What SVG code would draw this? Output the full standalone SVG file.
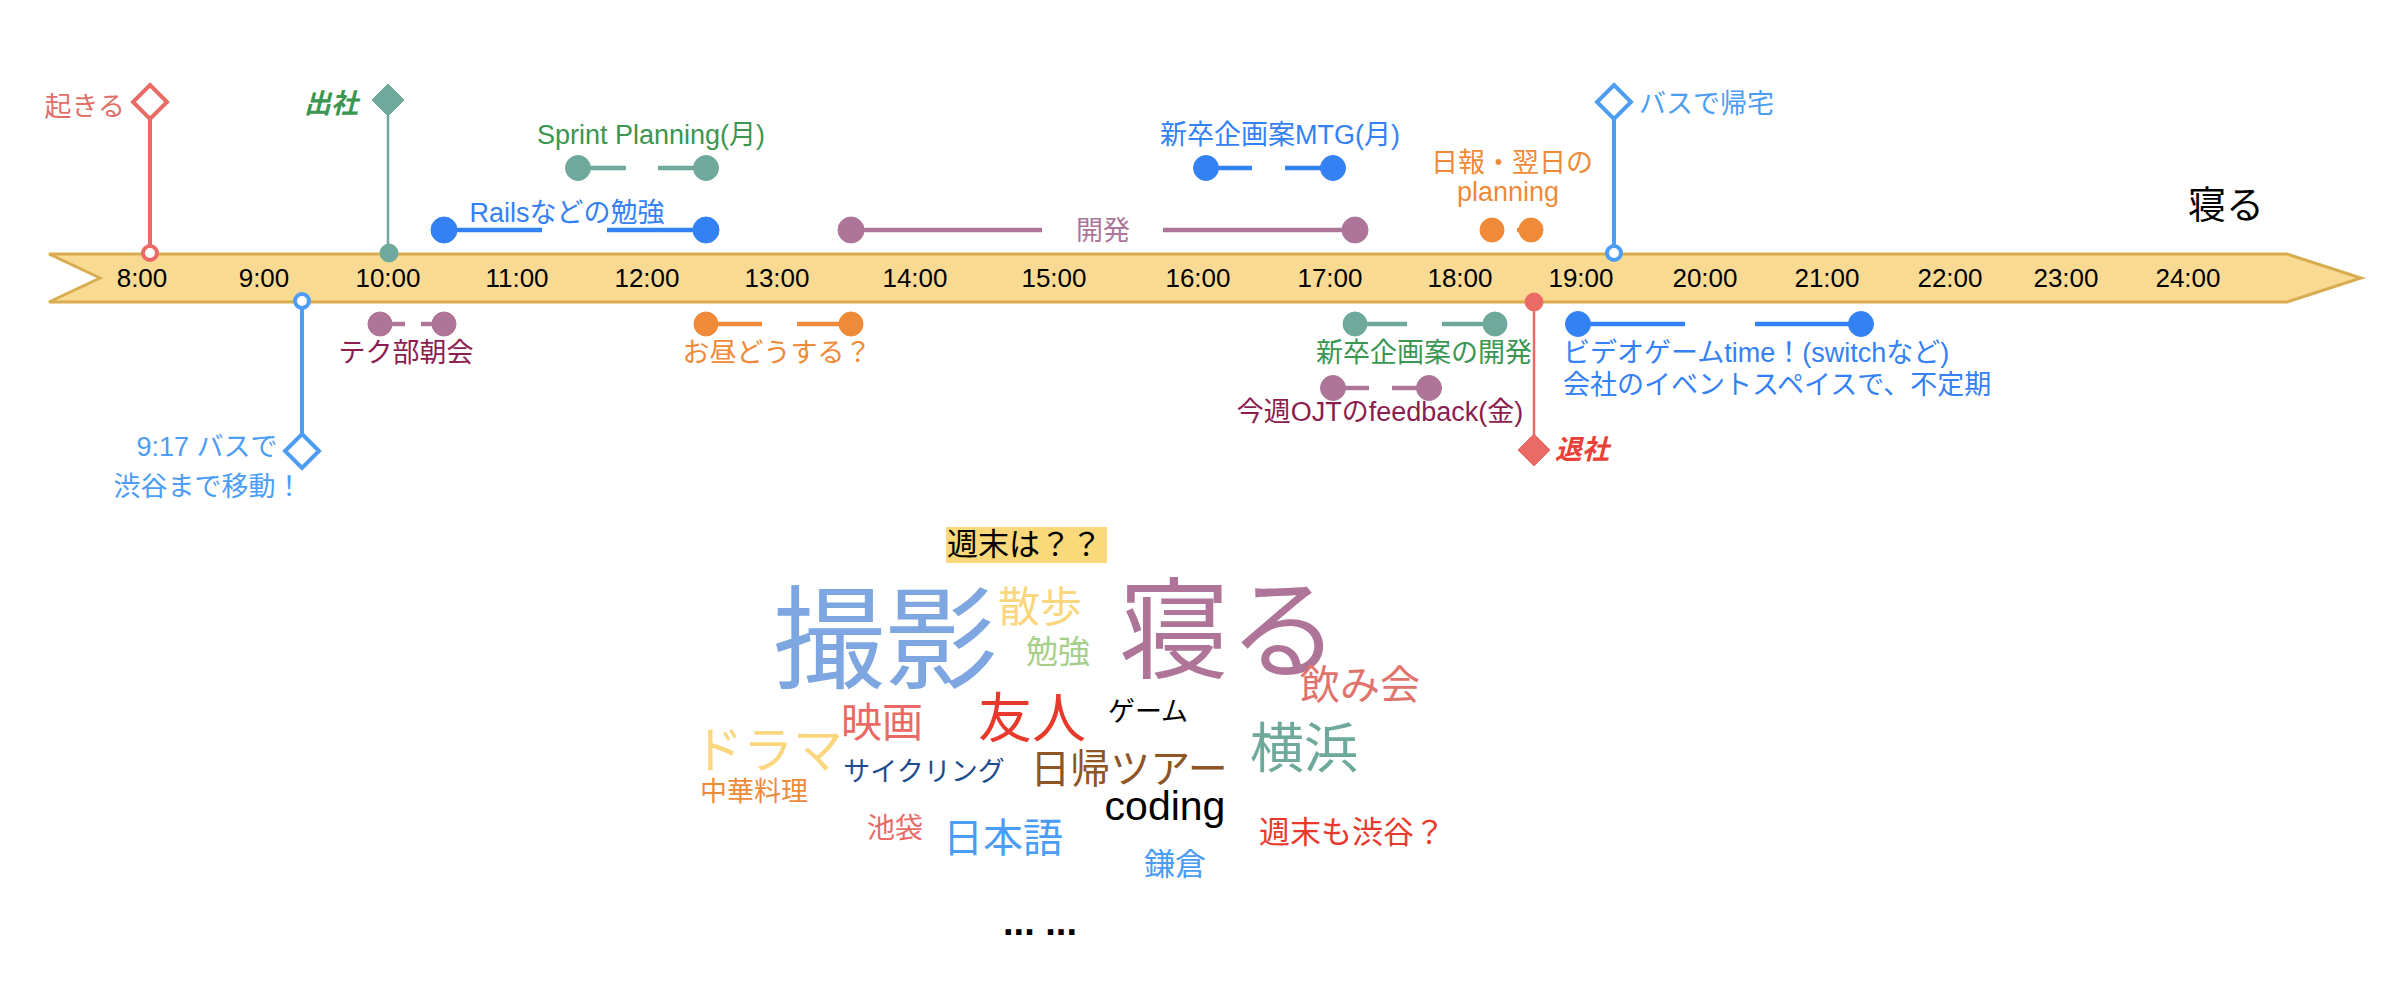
<svg xmlns="http://www.w3.org/2000/svg" width="2386" height="984" viewBox="0 0 2386 984">
<style>
text{font-family:"Liberation Sans","Noto Sans CJK JP",sans-serif}
.hr{font-size:26px;fill:#000;text-anchor:middle}
.l{font-size:27px}
.m{text-anchor:middle}
.e{text-anchor:end}
.bi{font-weight:bold;font-style:italic}
.ln{fill:none;stroke-width:4.5}
.red{stroke:#EA6B66;fill:#EA6B66}
.teal{stroke:#6FA99C;fill:#6FA99C}
.blue{stroke:#3481F4;fill:#3481F4}
.lblue{stroke:#4D9DF5;fill:#4D9DF5}
.pur{stroke:#AE7599;fill:#AE7599}
.org{stroke:#EF8A38;fill:#EF8A38}
.open{fill:#fff;stroke-width:4}
.wc{text-anchor:middle}
</style>
<rect width="2386" height="984" fill="#fff"/>
<g id="timeline">
<path d="M49,254 L2287,254 L2361,278 L2287,302 L49,302 L100,278 Z" fill="#F9DA93" stroke="#D8AC4F" stroke-width="3"/>
<text class="hr" x="142" y="287">8:00</text>
<text class="hr" x="264" y="287">9:00</text>
<text class="hr" x="388" y="287">10:00</text>
<text class="hr" x="517" y="287">11:00</text>
<text class="hr" x="647" y="287">12:00</text>
<text class="hr" x="777" y="287">13:00</text>
<text class="hr" x="915" y="287">14:00</text>
<text class="hr" x="1054" y="287">15:00</text>
<text class="hr" x="1198" y="287">16:00</text>
<text class="hr" x="1330" y="287">17:00</text>
<text class="hr" x="1460" y="287">18:00</text>
<text class="hr" x="1581" y="287">19:00</text>
<text class="hr" x="1705" y="287">20:00</text>
<text class="hr" x="1827" y="287">21:00</text>
<text class="hr" x="1950" y="287">22:00</text>
<text class="hr" x="2066" y="287">23:00</text>
<text class="hr" x="2188" y="287">24:00</text>
</g>
<g id="connectors">
<line x1="150" y1="119" x2="150" y2="246" stroke="#EA6B66" stroke-width="4"/>
<line x1="388" y1="116" x2="388" y2="250" stroke="#6FA99C" stroke-width="2.5"/>
<line x1="1614" y1="119" x2="1614" y2="246" stroke="#4D9DF5" stroke-width="4"/>
<line x1="302" y1="308" x2="302" y2="434" stroke="#4D9DF5" stroke-width="4"/>
<line x1="1534" y1="305" x2="1534" y2="436" stroke="#EA6B66" stroke-width="2.5"/>
<path class="ln teal" d="M578,168 H626 M658,168 H706"/>
<path class="ln blue" d="M444,230 H542 M607,230 H706"/>
<path class="ln blue" d="M1206,168 H1252 M1285,168 H1333"/>
<path class="ln pur" d="M851,230 H1042 M1163,230 H1355"/>
<path class="ln org" d="M1492,230 H1504 M1517,230 H1531"/>
<path class="ln pur" d="M380,324 H405 M421,324 H444"/>
<path class="ln org" d="M706,324 H762 M797,324 H851"/>
<path class="ln teal" d="M1355,324 H1407 M1442,324 H1495"/>
<path class="ln pur" d="M1333,388 H1369 M1392,388 H1429"/>
<path class="ln blue" d="M1578,324 H1685 M1755,324 H1861"/>
</g>
<g id="wake">
<polygon class="red open" points="150,85 167,102 150,119 133,102"/>
<circle class="red open" cx="150" cy="253" r="7" stroke-width="3.5"/>
<text class="l e" x="125" y="116" fill="#E06F67">起きる</text>
</g>
<g id="arrive">
<polygon class="teal" points="388,84 404,100 388,116 372,100"/>
<circle class="teal" cx="389" cy="253" r="9"/>
<text class="l e bi" x="358" y="113" fill="#3A9650">出社</text>
</g>
<g id="sprint">
<circle class="teal" cx="578" cy="168" r="12.5"/>
<circle class="teal" cx="706" cy="168" r="12.5"/>
<text class="l m" x="651" y="144" fill="#3A9650">Sprint Planning(月)</text>
</g>
<g id="rails">
<circle class="blue" cx="444" cy="230" r="13"/>
<circle class="blue" cx="706" cy="230" r="13"/>
<text class="l m" x="567" y="222" fill="#3481F4">Railsなどの勉強</text>
</g>
<g id="mtg">
<circle class="blue" cx="1206" cy="168" r="12.5"/>
<circle class="blue" cx="1333" cy="168" r="12.5"/>
<text class="l m" x="1280" y="144" fill="#3481F4">新卒企画案MTG(月)</text>
</g>
<g id="dev">
<circle class="pur" cx="851" cy="230" r="13"/>
<circle class="pur" cx="1355" cy="230" r="13"/>
<text class="l m" x="1103" y="240" fill="#AE7599">開発</text>
</g>
<g id="report">
<circle class="org" cx="1492" cy="230" r="12"/>
<circle class="org" cx="1531" cy="230" r="12"/>
<text class="l m" x="1512" y="172" fill="#EF8A38">日報・翌日の</text>
<text class="l m" x="1508" y="201" fill="#EF8A38">planning</text>
</g>
<g id="home">
<polygon class="lblue open" points="1614,85 1631,102 1614,119 1597,102"/>
<circle class="lblue open" cx="1614" cy="253" r="7" stroke-width="3.5"/>
<text class="l" x="1639" y="113" fill="#4D9DF5">バスで帰宅</text>
</g>
<g id="sleep">
<text x="2188" y="218" font-size="38" fill="#000">寝る</text>
</g>
<g id="bus">
<circle class="lblue open" cx="302" cy="301" r="7" stroke-width="3.5"/>
<polygon class="lblue open" points="302,434 319,451 302,468 285,451"/>
<text class="l m" x="207" y="456" fill="#4D9DF5">9:17 バスで</text>
<text class="l m" x="208" y="496" fill="#4D9DF5">渋谷まで移動！</text>
</g>
<g id="morning">
<circle class="pur" cx="380" cy="324" r="12"/>
<circle class="pur" cx="444" cy="324" r="12"/>
<text class="l m" x="406" y="362" fill="#8C1D4F">テク部朝会</text>
</g>
<g id="lunch">
<circle class="org" cx="706" cy="324" r="12"/>
<circle class="org" cx="851" cy="324" r="12"/>
<text class="l m" x="777" y="362" fill="#EF8A38">お昼どうする？</text>
</g>
<g id="newdev">
<circle class="teal" cx="1355" cy="324" r="12"/>
<circle class="teal" cx="1495" cy="324" r="12"/>
<text class="l m" x="1424" y="362" fill="#3A9650">新卒企画案の開発</text>
</g>
<g id="ojt">
<circle class="pur" cx="1333" cy="388" r="12.5"/>
<circle class="pur" cx="1429" cy="388" r="12.5"/>
<text class="l m" x="1380" y="421" fill="#8C1D4F">今週OJTのfeedback(金)</text>
</g>
<g id="leave">
<circle class="red" cx="1534" cy="302" r="9"/>
<polygon class="red" points="1534,434 1550,450 1534,466 1518,450"/>
<text class="l bi" x="1555" y="459" fill="#E94138">退社</text>
</g>
<g id="game">
<circle class="blue" cx="1578" cy="324" r="12.5"/>
<circle class="blue" cx="1861" cy="324" r="12.5"/>
<text class="l" x="1563" y="362" fill="#3481F4">ビデオゲームtime！(switchなど)</text>
<text class="l" x="1563" y="394" fill="#3481F4">会社のイベントスペイスで、不定期</text>
</g>
<g id="weekend-title">
<rect x="946" y="527" width="161" height="36" fill="#F9D97A"/>
<text x="947" y="555" font-size="31" fill="#000">週末は？？</text>
</g>
<g id="wordcloud">
<text class="wc" x="885" y="680" font-size="112" fill="#7EA6E0">撮影</text>
<text class="wc" x="1229" y="670" font-size="110" fill="#AE7599">寝る</text>
<text class="wc" x="1040" y="622" font-size="42" fill="#FAD77E">散歩</text>
<text class="wc" x="1058" y="663" font-size="32" fill="#A6D08A">勉強</text>
<text class="wc" x="1360" y="699" font-size="40" fill="#E0736B">飲み会</text>
<text class="wc" x="882" y="737" font-size="41" fill="#EA6B66">映画</text>
<text class="wc" x="1032" y="738" font-size="54" fill="#E83A2C">友人</text>
<text class="wc" x="1148" y="721" font-size="27" fill="#000">ゲーム</text>
<text class="wc" x="1304" y="768" font-size="54" fill="#6FA99C">横浜</text>
<text class="wc" x="768" y="768" font-size="50" fill="#FAD77E">ドラマ</text>
<text class="wc" x="924" y="781" font-size="27" fill="#1D4D8F">サイクリング</text>
<text class="wc" x="1129" y="783" font-size="40" fill="#8E5525">日帰ツアー</text>
<text class="wc" x="754" y="801" font-size="27" fill="#EF8A38">中華料理</text>
<text class="wc" x="1165" y="820" font-size="41" fill="#000">coding</text>
<text class="wc" x="895" y="838" font-size="28" fill="#EA6B66">池袋</text>
<text class="wc" x="1003" y="852" font-size="40" fill="#4A9CF5">日本語</text>
<text class="wc" x="1175" y="875" font-size="31" fill="#4A9CF5">鎌倉</text>
<text class="wc" x="1352" y="843" font-size="31" fill="#E83A2C">週末も渋谷？</text>
<text class="wc" x="1040" y="935" font-size="38" font-weight="bold" fill="#000">... ...</text>
</g>
</svg>
